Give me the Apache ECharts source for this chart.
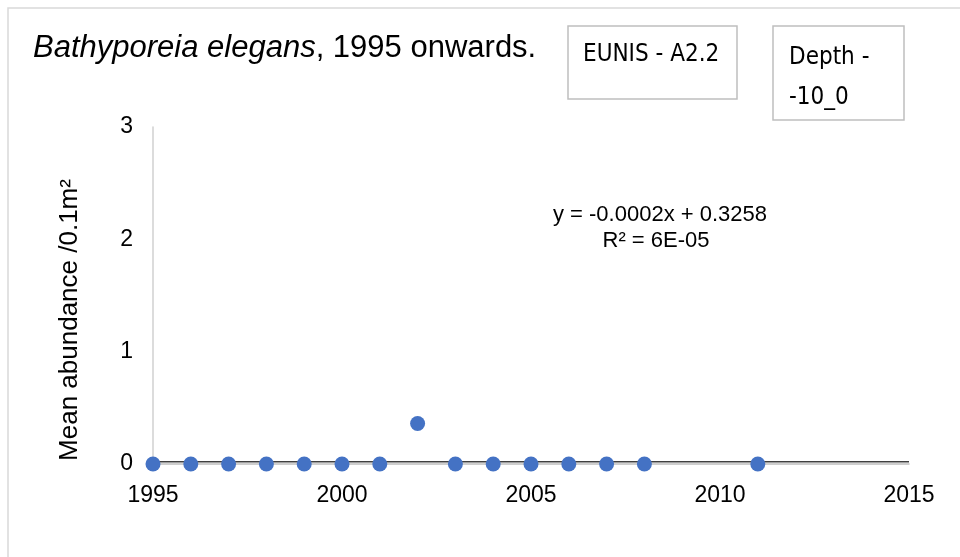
<!DOCTYPE html>
<html>
<head>
<meta charset="utf-8">
<script src="https://cdn.jsdelivr.net/npm/echarts@6/dist/echarts.min.js"></script>
<style>
  html, body { margin: 0; padding: 0; background: #fff; }
  #chart { width: 960px; height: 557px; }
</style>
</head>
<body>
<div id="chart"></div>
<script>
const years = [1995, 1996, 1997, 1998, 1999, 2000, 2001, 2002, 2003, 2004, 2005, 2006, 2007, 2008, 2011];
const abundance = [0, 0, 0, 0, 0, 0, 0, 0.36, 0, 0, 0, 0, 0, 0, 0];
const trendX = [1995, 2015];
const trendY = [0.02, 0.02];
const yTicks = [0, 1, 2, 3];

const chart = echarts.init(document.getElementById("chart"));
const font = "Liberation Sans, Arial, sans-serif";
const boxFont = "DejaVu Sans Condensed, sans-serif";

chart.setOption({
  animation: false,
  grid: { left: 153, right: 51, top: 127, bottom: 93 },
  xAxis: {
    type: "value",
    min: 1995,
    max: 2015,
    interval: 5,
    axisLine: { lineStyle: { color: "#bfbfbf", width: 1.5 } },
    axisTick: { show: false },
    splitLine: { show: false },
    axisLabel: {
      color: "#000", fontSize: 23, fontFamily: font, margin: 20,
      formatter: (v) => String(v),
    },
  },
  yAxis: {
    type: "value",
    min: yTicks[0],
    max: yTicks[yTicks.length - 1],
    interval: 1,
    axisLine: { show: true, lineStyle: { color: "#d0d0d0", width: 1.5 } },
    axisTick: { show: false },
    splitLine: { show: false },
    axisLabel: { color: "#000", fontSize: 23, fontFamily: font, margin: 20 },
  },
  series: [
    {
      type: "line",
      data: trendX.map((x, i) => [x, trendY[i]]),
      symbol: "none",
      lineStyle: { color: "#404040", width: 1.5 },
      z: 1,
    },
    {
      type: "scatter",
      data: years.map((y, i) => [y, abundance[i]]),
      symbolSize: 15,
      itemStyle: { color: "#4472c4", opacity: 1 },
      z: 3,
    },
  ],
  graphic: [
    {
      type: "rect",
      shape: { x: 8, y: 8, width: 1000, height: 600 },
      style: { fill: "none", stroke: "#d9d9d9", lineWidth: 1.5 },
      silent: true,
    },
    {
      type: "text",
      left: 33,
      top: 33,
      style: {
        text: "{i|Bathyporeia elegans}, 1995 onwards.",
        fontSize: 31,
        fontFamily: font,
        fill: "#000",
        rich: { i: { fontStyle: "italic", fontSize: 31, fontFamily: font } },
      },
    },
    {
      type: "text",
      x: 70,
      y: 320,
      rotation: Math.PI / 2,
      style: { text: "Mean abundance /0.1m²", fontSize: 26, fontFamily: font, fill: "#000", align: "center", verticalAlign: "middle" },
    },
    {
      type: "rect",
      shape: { x: 568, y: 26, width: 169, height: 73 },
      style: { fill: "#fff", stroke: "#bfbfbf", lineWidth: 1.5 },
    },
    {
      type: "text",
      left: 583,
      top: 43,
      style: { text: "EUNIS - A2.2", fontSize: 24, fontFamily: boxFont, fill: "#000" },
    },
    {
      type: "rect",
      shape: { x: 773, y: 26, width: 131, height: 94 },
      style: { fill: "#fff", stroke: "#bfbfbf", lineWidth: 1.5 },
    },
    {
      type: "text",
      left: 789,
      top: 38,
      style: { text: "Depth -\n-10_0", fontSize: 24, lineHeight: 40, fontFamily: boxFont, fill: "#000" },
    },
    {
      type: "text",
      x: 660,
      y: 215,
      style: { text: "y = -0.0002x + 0.3258", fontSize: 22, fontFamily: font, fill: "#000", align: "center", verticalAlign: "middle" },
    },
    {
      type: "text",
      x: 656,
      y: 241,
      style: { text: "R² = 6E-05", fontSize: 22, fontFamily: font, fill: "#000", align: "center", verticalAlign: "middle" },
    },
  ],
});
</script>
</body>
</html>
